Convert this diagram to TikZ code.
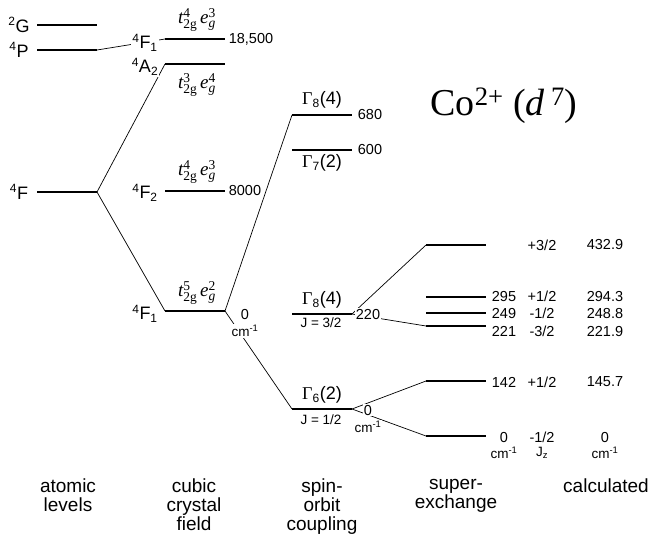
\documentclass[tikz,border=0pt]{standalone}
\usepackage{fontspec}
\usepackage{amsmath}
\setmainfont{Liberation Sans}
\newfontfamily\tnr{Liberation Serif}
\DeclareMathSizes{19}{19}{13.5}{10}
\DeclareMathSizes{18}{18}{12}{9}
\newcommand\fsz[1]{\fontsize{#1}{#1}\selectfont}
\newcommand\tf[1]{\text{\tnr #1}}
\newcommand\tfi[1]{\text{\tnr\itshape #1}}
\newcommand\conf[2]{$\tfi{t}^{\tf{#1}}_{\tf{2g}}\,\tfi{e}^{\tf{#2}}_{\tfi{g}}$}
\newcommand\gam[2]{{\tnr Γ}$_{\text{#1}}$(#2)}
\tikzset{
  lev/.style={line width=2.6pt},
  conn/.style={line width=0.7pt},
  num/.style={font=\fsz{14.5}, inner sep=1pt},
  smalllab/.style={font=\fsz{13.5}, inner sep=1pt},
  term/.style={font=\fsz{18}, inner sep=1pt},
  cfg/.style={font=\fsz{19}, inner sep=1pt},
  gl/.style={font=\fsz{18}, inner sep=1pt},
  colcap/.style={font=\fsz{19}, align=center, inner sep=0pt},
  wh/.style={fill=white}
}
\begin{document}
\begin{tikzpicture}[x=1pt,y=-1pt]
\path[use as bounding box, fill=white] (0,0) rectangle (650,539);
% level end points
\coordinate (G-l) at (37,25);   \coordinate (G-r) at (97,25);
\coordinate (P-l) at (37,50);   \coordinate (P-r) at (97,50);
\coordinate (F-l) at (37,192);  \coordinate (F-r) at (97,192);
\coordinate (c1-l) at (165,39);  \coordinate (c1-r) at (225,39);
\coordinate (c2-l) at (165,64);  \coordinate (c2-r) at (225,64);
\coordinate (c3-l) at (165,191); \coordinate (c3-r) at (225,191);
\coordinate (c4-l) at (165,311); \coordinate (c4-r) at (225,311);
\coordinate (s1-l) at (292,115); \coordinate (s1-r) at (352,115);
\coordinate (s2-l) at (292,150); \coordinate (s2-r) at (352,150);
\coordinate (s3-l) at (292,314); \coordinate (s3-r) at (352,314);
\coordinate (s4-l) at (292,409); \coordinate (s4-r) at (352,409);
\coordinate (x1-l) at (426,245); \coordinate (x1-r) at (486,245);
\coordinate (x2-l) at (426,297); \coordinate (x2-r) at (486,297);
\coordinate (x3-l) at (426,313); \coordinate (x3-r) at (486,313);
\coordinate (x4-l) at (426,326); \coordinate (x4-r) at (486,326);
\coordinate (x5-l) at (426,381); \coordinate (x5-r) at (486,381);
\coordinate (x6-l) at (426,436); \coordinate (x6-r) at (486,436);
% connectors
\draw[conn] (P-r) -- (c1-l);
\draw[conn] (F-r) -- (c2-l);
\draw[conn] (F-r) -- (c4-l);
\draw[conn] (c4-r) -- (s1-l);
\draw[conn] (c4-r) -- (s4-l);
\draw[conn] (s3-r) -- (x1-l);
\draw[conn] (s3-r) -- (x4-l);
\draw[conn] (s4-r) -- (x5-l);
\draw[conn] (s4-r) -- (x6-l);
% atomic labels
\node[term] (tG) at (19,25) {\textsuperscript{2}G};
\node[term] (tP) at (19,50) {\textsuperscript{4}P};
\node[term] (tF) at (19,192) {\textsuperscript{4}F};
% cubic labels
\node[term,wh] (tF1a) at (145,43) {\textsuperscript{4}F$_{\text{1}}$};
\node[term,wh] (tA2) at (145,67) {\textsuperscript{4}A$_{\text{2}}$};
\node[term] (tF2) at (145,193) {\textsuperscript{4}F$_{\text{2}}$};
\node[term] (tF1b) at (145,314) {\textsuperscript{4}F$_{\text{1}}$};
\node[cfg] (k1) at (197,20) {\conf{4}{3}};
\node[cfg] (k2) at (197,85) {\conf{3}{4}};
\node[cfg] (k3) at (197,172) {\conf{4}{3}};
\node[cfg] (k4) at (197,293) {\conf{5}{2}};
\node[num] (n18500) at (251,39) {18,500};
\node[num] (n8000) at (245,191) {8000};
\node[num,wh] (n0a) at (245,314) {0};
\node[smalllab,wh] (cma) at (245,331) {cm\textsuperscript{-1}};
% spin-orbit labels
\node[gl] (g1) at (322,100) {\gam{8}{4}};
\node[gl] (g2) at (322,163) {\gam{7}{2}};
\node[gl] (g3) at (322,300) {\gam{8}{4}};
\node[gl] (g4) at (322,395) {\gam{6}{2}};
\node[smalllab] (j1) at (321,323) {J = 3/2};
\node[smalllab] (j2) at (321,420) {J = 1/2};
\node[num] (n680) at (370,115) {680};
\node[num] (n600) at (370,150) {600};
\node[num,wh] (n220) at (368,314) {220};
\node[num,wh] (n0b) at (368,410) {0};
\node[smalllab,wh] (cmb) at (368,427) {cm\textsuperscript{-1}};
% superexchange labels
\node[num] (e2) at (504,296) {295};
\node[num] (e3) at (504,313) {249};
\node[num] (e4) at (504,331) {221};
\node[num] (e5) at (504,382) {142};
\node[num] (e6) at (504,437) {0};
\node[smalllab] (cmc) at (504,453) {cm\textsuperscript{-1}};
\node[num] (z1) at (542,245) {+3/2};
\node[num] (z2) at (542,296) {+1/2};
\node[num] (z3) at (542,313) {-1/2};
\node[num] (z4) at (542,331) {-3/2};
\node[num] (z5) at (542,382) {+1/2};
\node[num] (z6) at (542,437) {-1/2};
\node[smalllab] (jz) at (542,453) {J$_{\text{z}}$};
\node[num] (v1) at (605,245) {432.9};
\node[num] (v2) at (605,296) {294.3};
\node[num] (v3) at (605,313) {248.8};
\node[num] (v4) at (605,331) {221.9};
\node[num] (v5) at (605,382) {145.7};
\node[num] (v6) at (605,437) {0};
\node[smalllab] (cmd) at (605,453) {cm\textsuperscript{-1}};
% title
\node[font=\fsz{38}\tnr, anchor=base, inner sep=0pt] (title) at (504,115) {Co\textsuperscript{2+} (\textit{d}\,\textsuperscript{7})};
% column captions
\node[colcap, anchor=north] (capA) at (68,479) {atomic\\levels};
\node[colcap, anchor=north] (capB) at (194,479) {cubic\\crystal\\field};
\node[colcap, anchor=north] (capC) at (322,479) {spin-\\orbit\\coupling};
\node[colcap, anchor=north] (capD) at (456,479) {super-\\exchange};
\node[colcap, anchor=north] (capE) at (606,479) {calculated};
% levels
\foreach \n in {G,P,F,c1,c2,c3,c4,s1,s2,s3,s4,x1,x2,x3,x4,x5,x6}
  \draw[lev] (\n-l) -- (\n-r);
\end{tikzpicture}
\end{document}
